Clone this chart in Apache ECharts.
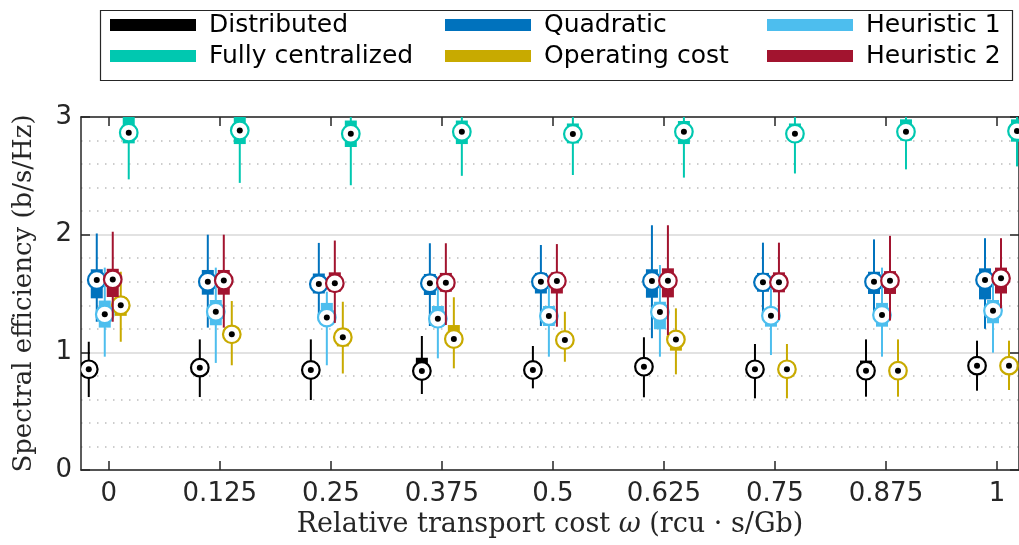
<!DOCTYPE html>
<html>
<head>
<meta charset="utf-8">
<script src="https://cdn.jsdelivr.net/npm/echarts@6/dist/echarts.min.js"></script>
<style>html,body{margin:0;padding:0;background:#fff;}#c{width:1019px;height:545px;}</style>
</head>
<body>
<div id="c"></div>
<script>
// Tick labels / categories (x positions are category indices 0..8)
const xLabels = ['0', '0.125', '0.25', '0.375', '0.5', '0.625', '0.75', '0.875', '1'];
const yTicks = [0, 1, 2, 3];

// Each entry: [whisker low, q1, median, q3, whisker high]
const distributed = [
  [0.62, 0.80, 0.856, 0.91, 1.09],
  [0.62, 0.81, 0.870, 0.92, 1.11],
  [0.595, 0.79, 0.850, 0.91, 1.11],
  [0.646, 0.79, 0.841, 0.954, 1.139],
  [0.694, 0.80, 0.850, 0.90, 1.054],
  [0.618, 0.81, 0.878, 0.93, 1.128],
  [0.609, 0.80, 0.856, 0.91, 1.071],
  [0.623, 0.79, 0.844, 0.93, 1.11],
  [0.674, 0.83, 0.887, 0.94, 1.099]
];
const fullyCentralized = [
  [2.47, 2.776, 2.867, 3.0, 3.0],
  [2.44, 2.77, 2.885, 3.0, 3.0],
  [2.42, 2.745, 2.858, 2.97, 3.0],
  [2.50, 2.77, 2.875, 2.97, 3.0],
  [2.507, 2.776, 2.855, 2.945, 3.0],
  [2.485, 2.77, 2.875, 2.966, 3.0],
  [2.52, 2.79, 2.858, 2.945, 3.0],
  [2.555, 2.80, 2.875, 2.98, 3.0],
  [2.58, 2.79, 2.880, 2.98, 3.0]
];
const quadratic = [
  [1.26, 1.459, 1.615, 1.706, 2.01],
  [1.21, 1.49, 1.600, 1.70, 2.0],
  [1.27, 1.50, 1.580, 1.67, 1.93],
  [1.224, 1.487, 1.587, 1.666, 1.927],
  [1.224, 1.50, 1.600, 1.675, 1.912],
  [1.12, 1.464, 1.606, 1.706, 2.08],
  [1.32, 1.515, 1.595, 1.675, 1.932],
  [1.345, 1.496, 1.600, 1.685, 1.96],
  [1.20, 1.45, 1.615, 1.714, 1.97]
];
const operatingCost = [
  [1.09, 1.31, 1.400, 1.47, 1.685],
  [0.89, 1.10, 1.153, 1.21, 1.436],
  [0.82, 1.05, 1.128, 1.20, 1.43],
  [0.864, 1.05, 1.113, 1.232, 1.468],
  [0.92, 1.05, 1.105, 1.16, 1.345],
  [0.813, 1.014, 1.110, 1.17, 1.374],
  [0.609, 0.80, 0.856, 0.91, 1.071],
  [0.623, 0.79, 0.844, 0.90, 1.11],
  [0.68, 0.83, 0.887, 0.94, 1.099]
];
const heuristic1 = [
  [0.963, 1.21, 1.323, 1.44, 1.72],
  [0.91, 1.23, 1.345, 1.445, 1.72],
  [0.89, 1.23, 1.295, 1.42, 1.515],
  [0.949, 1.218, 1.286, 1.394, 1.544],
  [0.963, 1.224, 1.309, 1.394, 1.56],
  [0.963, 1.196, 1.343, 1.43, 1.742],
  [0.977, 1.218, 1.311, 1.37, 1.544],
  [0.963, 1.218, 1.317, 1.42, 1.72],
  [0.997, 1.247, 1.354, 1.445, 1.63]
];
const heuristic2 = [
  [1.26, 1.47, 1.620, 1.71, 2.025],
  [1.21, 1.49, 1.610, 1.70, 2.0],
  [1.25, 1.515, 1.587, 1.68, 1.95],
  [1.232, 1.515, 1.592, 1.675, 1.927],
  [1.218, 1.50, 1.606, 1.68, 1.92],
  [1.147, 1.467, 1.609, 1.714, 2.08],
  [1.275, 1.51, 1.595, 1.68, 1.932],
  [1.27, 1.496, 1.609, 1.69, 1.99],
  [1.374, 1.50, 1.630, 1.72, 1.97]
];

const seriesDefs = [
  { name: 'Distributed', data: distributed, color: '#000000', offset: -0.18 },
  { name: 'Fully centralized', data: fullyCentralized, color: '#00c8b0', offset: 0.18 },
  { name: 'Quadratic', data: quadratic, color: '#0072bd', offset: -0.108 },
  { name: 'Operating cost', data: operatingCost, color: '#c8aa00', offset: 0.108 },
  { name: 'Heuristic 1', data: heuristic1, color: '#4dbeee', offset: -0.036 },
  { name: 'Heuristic 2', data: heuristic2, color: '#a2142f', offset: 0.036 }
];

function makeRender(offset, color) {
  return function (params, api) {
    const k = api.value(0);
    const cw = api.size([1, 0])[0];
    const x = api.coord([k, api.value(3)])[0] + offset * cw;
    const yLow = api.coord([k, api.value(1)])[1];
    const yQ1 = api.coord([k, api.value(2)])[1];
    const yMed = api.coord([k, api.value(3)])[1];
    const yQ3 = api.coord([k, api.value(4)])[1];
    const yHigh = api.coord([k, api.value(5)])[1];
    const bw = 12;
    return {
      type: 'group',
      children: [
        { type: 'line', shape: { x1: x, y1: yLow, x2: x, y2: yHigh }, style: { stroke: color, lineWidth: 2 } },
        { type: 'rect', shape: { x: x - bw / 2, y: yQ3, width: bw, height: yQ1 - yQ3 }, style: { fill: color } },
        { type: 'circle', shape: { cx: x, cy: yMed, r: 8.8 }, style: { fill: '#ffffff', stroke: color, lineWidth: 2.2 } },
        { type: 'circle', shape: { cx: x, cy: yMed, r: 3 }, style: { fill: '#000000' } }
      ]
    };
  };
}

const series = seriesDefs.map(function (s) {
  return {
    name: s.name,
    type: 'custom',
    clip: true,
    itemStyle: { color: s.color },
    renderItem: makeRender(s.offset, s.color),
    encode: { x: 0, y: [1, 2, 3, 4, 5] },
    data: s.data.map(function (d, i) { return [i].concat(d); })
  };
});

const legendText = { fontFamily: 'DejaVu Sans', fontSize: 25, color: '#000', lineHeight: 28, padding: [0, 0, 0, 8] };
function legendCol(left, names) {
  return {
    orient: 'vertical', left: left, top: 11, itemWidth: 86, itemHeight: 12, itemGap: 3,
    icon: 'rect', selectedMode: false, textStyle: legendText, data: names, padding: 0
  };
}

const axisColor = '#262626';
const tickIdx = xLabels.map(function (_, i) { return i; });
const option = {
  animation: false,
  backgroundColor: '#ffffff',
  grid: { left: 81, top: 117, right: -2, bottom: 75, containLabel: false },
  legend: [
    legendCol(110, ['Distributed', 'Fully centralized']),
    legendCol(445, ['Quadratic', 'Operating cost']),
    legendCol(767, ['Heuristic 1', 'Heuristic 2'])
  ],
  graphic: [
    { type: 'rect', left: 98, top: 8, shape: { width: 912, height: 70 }, style: { fill: null, stroke: axisColor, lineWidth: 1.2 }, z: 0 }
  ],
  xAxis: [
    {
      type: 'value', position: 'bottom', min: -0.25, max: 8.198,
      name: '{a|Relative transport cost }{i|ω}{a| (rcu · s/Gb)}',
      nameLocation: 'middle', nameGap: 37,
      nameTextStyle: {
        rich: {
          a: { fontFamily: 'DejaVu Serif', fontSize: 27, color: '#262626' },
          i: { fontFamily: 'DejaVu Serif', fontStyle: 'italic', fontSize: 27, color: '#262626' }
        }
      },
      axisLine: { show: true, onZero: false, lineStyle: { color: axisColor, width: 1.5 } },
      axisTick: { show: true, inside: true, length: 9, customValues: tickIdx, lineStyle: { color: axisColor, width: 1.5 } },
      axisLabel: {
        customValues: tickIdx,
        formatter: function (v) { return xLabels[Math.round(v)]; },
        fontFamily: 'DejaVu Sans', fontSize: 26, color: '#262626', margin: 11
      },
      splitLine: { show: false }
    },
    {
      type: 'value', position: 'top', min: -0.25, max: 8.198,
      axisLine: { show: true, onZero: false, lineStyle: { color: axisColor, width: 1.5 } },
      axisTick: { show: true, inside: true, length: 9, customValues: tickIdx, lineStyle: { color: axisColor, width: 1.5 } },
      axisLabel: { show: false },
      splitLine: { show: false }
    }
  ],
  yAxis: [
    {
      type: 'value', position: 'left', min: 0, max: 3, interval: 1,
      name: 'Spectral efficiency (b/s/Hz)', nameLocation: 'middle', nameGap: 44,
      nameTextStyle: { fontFamily: 'DejaVu Serif', fontSize: 26, color: '#262626' },
      axisLine: { show: true, onZero: false, lineStyle: { color: axisColor, width: 1.5 } },
      axisTick: { show: true, inside: true, length: 9, lineStyle: { color: axisColor, width: 1.5 } },
      axisLabel: { fontFamily: 'DejaVu Sans', fontSize: 26, color: '#262626', margin: 9,
        formatter: function (v) { return yTicks.indexOf(v) >= 0 ? String(v) : ''; } },
      splitLine: { show: true, lineStyle: { color: '#e2e2e2', width: 2 } },
      minorTick: { show: false, splitNumber: 5 },
      minorSplitLine: { show: true, lineStyle: { color: '#bdbdbd', width: 1.5, type: [1.5, 6.5] } }
    },
    {
      type: 'value', position: 'right', min: 0, max: 3, interval: 1,
      axisLine: { show: true, onZero: false, lineStyle: { color: axisColor, width: 1.5 } },
      axisTick: { show: true, inside: true, length: 9, lineStyle: { color: axisColor, width: 1.5 } },
      axisLabel: { show: false },
      splitLine: { show: false }
    }
  ],
  series: series
};

const chart = echarts.init(document.getElementById('c'), null, { renderer: 'canvas' });
chart.setOption(option);
</script>
</body>
</html>
